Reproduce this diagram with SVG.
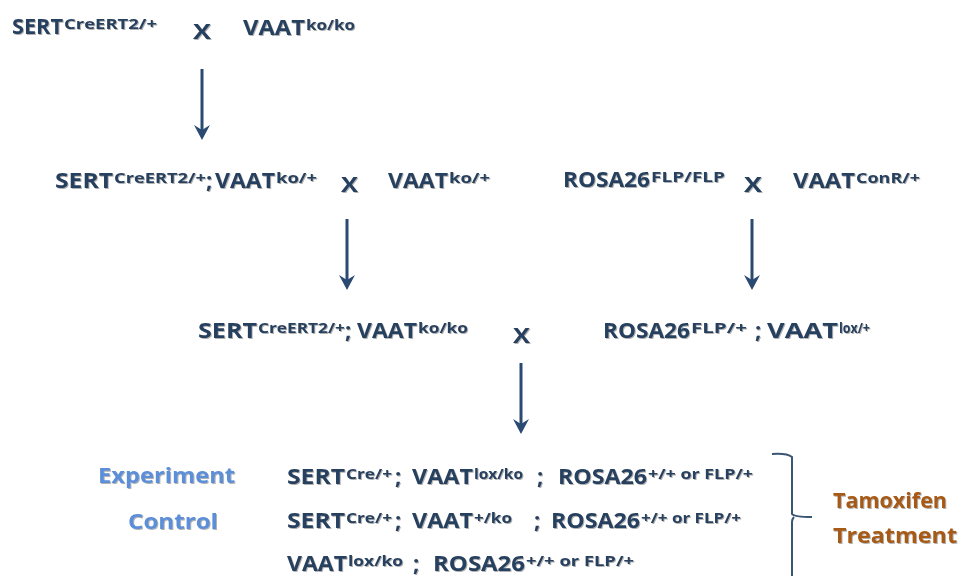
<svg xmlns="http://www.w3.org/2000/svg" width="961" height="576" viewBox="0 0 961 576">
<defs>
<filter id="sh" x="-5%" y="-20%" width="110%" height="140%"><feDropShadow dx="1" dy="1" stdDeviation="0.7" flood-color="#555" flood-opacity="0.45"/></filter>
<marker id="ah" markerWidth="18" markerHeight="18" refX="10" refY="9" orient="auto" markerUnits="userSpaceOnUse" viewBox="0 0 18 18"><path d="M1,1 L16,9 L1,17 L6,9 Z" fill="#2b4a72"/></marker>
</defs>
<style>
text{font-family:"Open Sans","Liberation Sans",sans-serif;font-weight:bold;fill:#28405f;filter:url(#sh)}
.m{font-size:22px}
.s{font-size:15px}
.x{font-size:22px}
.lab{fill:#5b8fd8;font-size:22px}
.tam{fill:#a65a12;font-size:22px}
.arr{stroke:#2b4a72;stroke-width:3;fill:none;marker-end:url(#ah)}
.br{stroke:#3b5575;stroke-width:2;fill:none}
</style>
<g id="cross1">
<text class="m" x="12" y="34" textLength="51" lengthAdjust="spacingAndGlyphs">SERT</text><text class="s" x="64" y="29" textLength="93" lengthAdjust="spacingAndGlyphs">CreERT2/+</text>
<text class="x" x="193" y="39" textLength="18" lengthAdjust="spacingAndGlyphs">X</text>
<text class="m" x="243" y="35" textLength="62" lengthAdjust="spacingAndGlyphs">VAAT</text><text class="s" x="306" y="30" textLength="49" lengthAdjust="spacingAndGlyphs">ko/ko</text>
</g>
<g id="cross2a">
<text class="m" x="55" y="188" textLength="58" lengthAdjust="spacingAndGlyphs">SERT</text><text class="s" x="114" y="183" textLength="92" lengthAdjust="spacingAndGlyphs">CreERT2/+</text><text class="m" x="206" y="188">;</text>
<text class="m" x="215" y="188" textLength="60" lengthAdjust="spacingAndGlyphs">VAAT</text><text class="s" x="276" y="183" textLength="41" lengthAdjust="spacingAndGlyphs">ko/+</text>
<text class="x" x="341" y="192" textLength="17" lengthAdjust="spacingAndGlyphs">X</text>
<text class="m" x="388" y="188" textLength="60" lengthAdjust="spacingAndGlyphs">VAAT</text><text class="s" x="449" y="183" textLength="41" lengthAdjust="spacingAndGlyphs">ko/+</text>
</g>
<g id="cross2b">
<text class="m" x="563" y="187" textLength="87" lengthAdjust="spacingAndGlyphs">ROSA26</text><text class="s" x="651" y="182" textLength="74" lengthAdjust="spacingAndGlyphs">FLP/FLP</text>
<text class="x" x="744" y="192" textLength="18" lengthAdjust="spacingAndGlyphs">X</text>
<text class="m" x="793" y="188" textLength="62" lengthAdjust="spacingAndGlyphs">VAAT</text><text class="s" x="856" y="183" textLength="64" lengthAdjust="spacingAndGlyphs">ConR/+</text>
</g>
<g id="cross3a">
<text class="m" x="198" y="338" textLength="59" lengthAdjust="spacingAndGlyphs">SERT</text><text class="s" x="258" y="333" textLength="87" lengthAdjust="spacingAndGlyphs">CreERT2/+</text><text class="m" x="345" y="338">;</text>
<text class="m" x="357" y="338" textLength="60" lengthAdjust="spacingAndGlyphs">VAAT</text><text class="s" x="418" y="333" textLength="50" lengthAdjust="spacingAndGlyphs">ko/ko</text>
<text class="x" x="513" y="343" textLength="17" lengthAdjust="spacingAndGlyphs">X</text>
</g>
<g id="cross3b">
<text class="m" x="603" y="338" textLength="87" lengthAdjust="spacingAndGlyphs">ROSA26</text><text class="s" x="691" y="333" textLength="56" lengthAdjust="spacingAndGlyphs">FLP/+</text><text class="m" x="755" y="338">;</text>
<text class="m" x="767" y="338" textLength="71" lengthAdjust="spacingAndGlyphs">VAAT</text><text class="s" x="839" y="333" textLength="31" lengthAdjust="spacingAndGlyphs">lox/+</text>
</g>
<g id="experiment">
<text class="lab" x="98" y="483" textLength="137" lengthAdjust="spacingAndGlyphs">Experiment</text>
<text class="m" x="287" y="484" textLength="58" lengthAdjust="spacingAndGlyphs">SERT</text><text class="s" x="346" y="479" textLength="46" lengthAdjust="spacingAndGlyphs">Cre/+</text><text class="m" x="395" y="484">;</text>
<text class="m" x="412" y="484" textLength="61" lengthAdjust="spacingAndGlyphs">VAAT</text><text class="s" x="474" y="479" textLength="49" lengthAdjust="spacingAndGlyphs">lox/ko</text><text class="m" x="537" y="484">;</text>
<text class="m" x="558" y="484" textLength="89" lengthAdjust="spacingAndGlyphs">ROSA26</text><text class="s" x="648" y="479" textLength="105" lengthAdjust="spacingAndGlyphs">+/+ or FLP/+</text>
</g>
<g id="control">
<text class="lab" x="128" y="529" textLength="90" lengthAdjust="spacingAndGlyphs">Control</text>
<text class="m" x="287" y="528" textLength="58" lengthAdjust="spacingAndGlyphs">SERT</text><text class="s" x="346" y="523" textLength="46" lengthAdjust="spacingAndGlyphs">Cre/+</text><text class="m" x="395" y="528">;</text>
<text class="m" x="412" y="528" textLength="61" lengthAdjust="spacingAndGlyphs">VAAT</text><text class="s" x="474" y="523" textLength="38" lengthAdjust="spacingAndGlyphs">+/ko</text><text class="m" x="534" y="528">;</text>
<text class="m" x="551" y="528" textLength="89" lengthAdjust="spacingAndGlyphs">ROSA26</text><text class="s" x="641" y="523" textLength="100" lengthAdjust="spacingAndGlyphs">+/+ or FLP/+</text>
</g>
<g id="control2">
<text class="m" x="287" y="571" textLength="60" lengthAdjust="spacingAndGlyphs">VAAT</text><text class="s" x="348" y="566" textLength="55" lengthAdjust="spacingAndGlyphs">lox/ko</text><text class="m" x="413" y="571">;</text>
<text class="m" x="433" y="571" textLength="92" lengthAdjust="spacingAndGlyphs">ROSA26</text><text class="s" x="526" y="566" textLength="108" lengthAdjust="spacingAndGlyphs">+/+ or FLP/+</text>
</g>
<g id="treatment">
<text class="tam" x="833" y="508" textLength="114" lengthAdjust="spacingAndGlyphs">Tamoxifen</text>
<text class="tam" x="833" y="543" textLength="124" lengthAdjust="spacingAndGlyphs">Treatment</text>
</g>
<g id="connectors">
<line class="arr" x1="202" y1="69" x2="202" y2="134"/>
<line class="arr" x1="347" y1="219" x2="347" y2="284"/>
<line class="arr" x1="752" y1="219" x2="752" y2="284"/>
<line class="arr" x1="521" y1="363" x2="521" y2="428"/>
<path class="br" d="M772,454 Q787,453 792,457 L792,514 Q794,517 812,517 M794,517 Q792,519 792,522 L792,576"/>
</g>
</svg>
